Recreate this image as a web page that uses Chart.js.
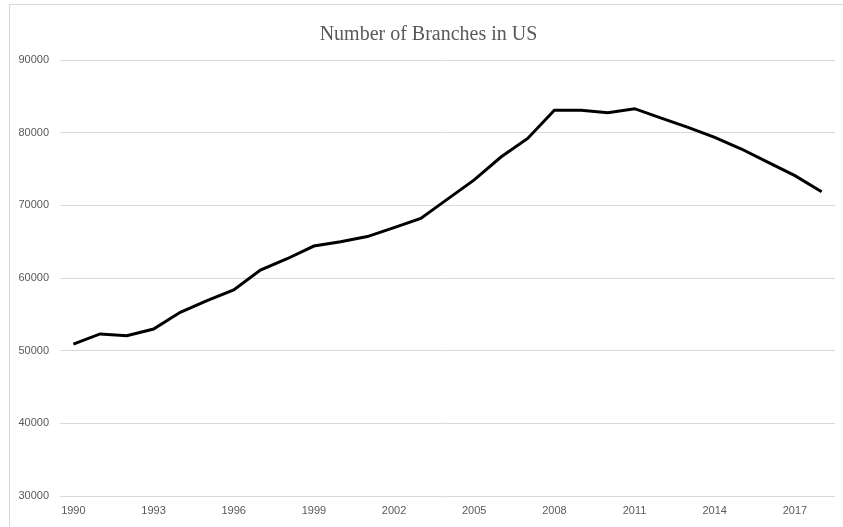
<!DOCTYPE html>
<html>
<head>
<meta charset="utf-8">
<script src="https://cdn.jsdelivr.net/npm/chart.js@4/dist/chart.umd.min.js"></script>
<style>
  html, body { margin: 0; padding: 0; background: #ffffff; overflow: hidden; }
  #wrap { position: relative; width: 843px; height: 527px; }
  #frame { position: absolute; left: 9px; top: 4px; width: 900px; height: 600px;
           border-left: 1px solid #d9d9d9; border-top: 1px solid #d9d9d9; pointer-events: none; }
  canvas { position: absolute; left: 0; top: 0; }
</style>
</head>
<body>
<div id="wrap">
  <div id="frame"></div>
  <canvas id="c" width="843" height="527"></canvas>
</div>
<script>
const chartTitle = 'Number of Branches in US';
const years = ['1990','1991','1992','1993','1994','1995','1996','1997','1998','1999',
               '2000','2001','2002','2003','2004','2005','2006','2007','2008','2009',
               '2010','2011','2012','2013','2014','2015','2016','2017','2018'];
const branches = [50900, 52300, 52050, 52980, 55280, 56880, 58350, 61100, 62650, 64400,
                  65000, 65700, 66930, 68200, 70850, 73500, 76650, 79200, 83100, 83100,
                  82750, 83300, 82000, 80740, 79360, 77750, 75900, 74080, 71880];
const tickYears = ['1990','1993','1996','1999','2002','2005','2008','2011','2014','2017'];
const yTicks = [30000, 40000, 50000, 60000, 70000, 80000, 90000];

const labelColor = '#595959';
const gridColor = '#d9d9d9';

new Chart(document.getElementById('c'), {
  type: 'line',
  data: {
    labels: years,
    datasets: [{
      data: branches,
      borderColor: '#000000',
      borderWidth: 3,
      pointRadius: 0,
      tension: 0,
      fill: false,
      yAxisID: 'y'
    }]
  },
  options: {
    responsive: false,
    animation: false,
    layout: { padding: { left: 14, right: 0, top: 0, bottom: 0 } },
    plugins: {
      legend: { display: false },
      tooltip: { enabled: false },
      title: {
        display: true,
        text: chartTitle,
        color: labelColor,
        font: { family: '"Liberation Serif", "Times New Roman", serif', size: 20, weight: 'normal' },
        padding: { top: 23, bottom: 13 }
      }
    },
    scales: {
      x: {
        type: 'category',
        offset: true,
        grid: { display: false, drawTicks: false },
        border: { display: false },
        ticks: {
          autoSkip: false,
          maxRotation: 0,
          minRotation: 0,
          padding: 8,
          color: labelColor,
          font: { family: '"Liberation Sans", Arial, sans-serif', size: 11 },
          callback: function (value) {
            const lbl = this.getLabelForValue(value);
            return tickYears.includes(lbl) ? lbl : '';
          }
        },
        afterFit: function (scale) { scale.height = 31; }
      },
      y: {
        min: yTicks[0],
        max: yTicks[yTicks.length - 1],
        grid: { color: gridColor, lineWidth: 1, drawTicks: false },
        border: { display: false },
        ticks: {
          stepSize: 10000,
          padding: 11,
          color: labelColor,
          font: { family: '"Liberation Sans", Arial, sans-serif', size: 11 },
          callback: function (v) { return String(v); }
        },
        afterFit: function (scale) { scale.width = 46; }
      },
      yRight: {
        position: 'right',
        min: yTicks[0],
        max: yTicks[yTicks.length - 1],
        grid: { display: false, drawTicks: false },
        border: { display: false },
        ticks: { display: false },
        afterFit: function (scale) { scale.width = 8; }
      }
    }
  }
});
</script>
</body>
</html>
